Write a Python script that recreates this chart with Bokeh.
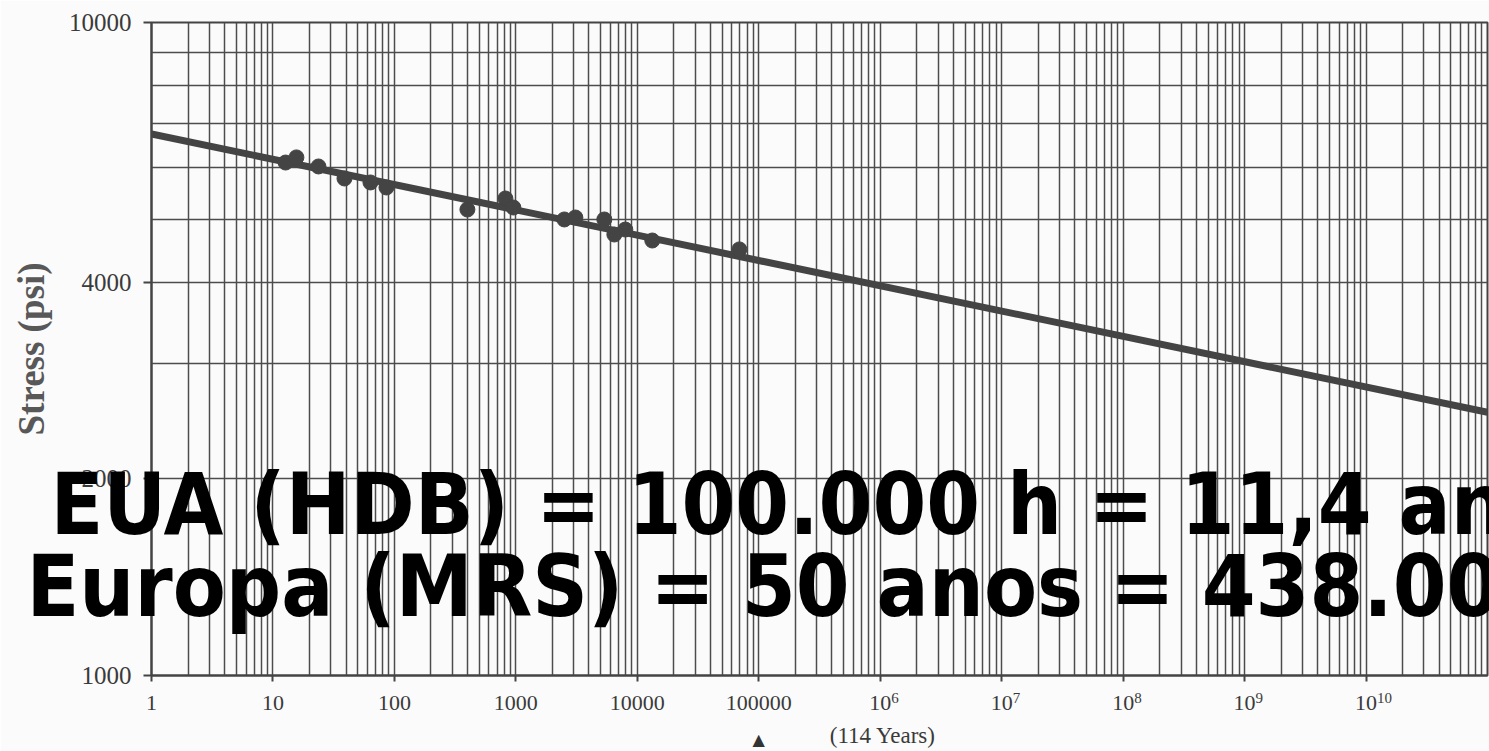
from bokeh.plotting import figure
from bokeh.layouts import column
from bokeh.models import FixedTicker, Label, Range1d
from bokeh.embed import file_html
from bokeh.resources import INLINE

# Creep rupture tests: time to failure (h) and hoop stress (psi)
test_hours = [12.7, 15.6, 23.7, 38.8, 63.5, 86, 399, 820, 954,
              2506, 3090, 5350, 6470, 7960, 13280, 69200]
test_stress = [6103, 6215, 6019, 5769, 5689, 5589, 5171, 5377, 5208,
               4993, 5028, 4993, 4735, 4819, 4636, 4493]

# Regression line (log-log) across the whole time axis
fit_hours = [1, 1e11]
fit_stress = [6750, 2530]

# Axis ticks and labels (powers from 10^6 up get a raised exponent)
x_ticks = [1, 10, 100, 1000, 10000, 100000,
           10**6, 10**7, 10**8, 10**9, 10**10]
x_tick_labels = ["1", "10", "100", "1000", "10000", "100000",
                 "10", "10", "10", "10", "10"]
x_tick_exponents = ["", "", "", "", "", "", "6", "7", "8", "9", "10"]
y_ticks = [1000, 2000, 4000, 10000]
y_tick_labels = ["1000", "2000", "4000", "10000"]
y_extra_lines = [3000, 5000, 6000, 7000, 8000, 9000]

# Hydrostatic design basis reference time
hdb_hours = 100000
hdb_note = "(114 Years)"

caption_lines = ["EUA (HDB) = 100.000 h = 11,4 anos",
                 "Europa (MRS) = 50 anos = 438.000 h"]

# log-paper grid: 2..9 inside every decade
x_minor = [m * 10**k for k in range(0, 11) for m in range(2, 10)]

GRID = "#4c4c4c"
INK = "#444444"
TEXT = "#3a3a3a"
SERIF = "Liberation Serif"

W, H = 1489, 751
# borders around the data area of the chart (pixels)
B_LEFT, B_RIGHT, B_TOP, B_BOTTOM = 151, 2, 22, 76
X_DECADES, Y_DECADES = 11, 1

p = figure(width=W, height=H,
           x_axis_type="log", y_axis_type="log",
           x_range=Range1d(1, 1e11), y_range=Range1d(1000, 10000),
           output_backend="svg", toolbar_location=None,
           min_border_left=B_LEFT, min_border_right=B_RIGHT,
           min_border_top=B_TOP, min_border_bottom=B_BOTTOM)

p.background_fill_color = "#fbfbfb"
p.border_fill_color = "#fbfbfb"
p.outline_line_color = INK
p.outline_line_width = 2

# x axis
p.xaxis.ticker = FixedTicker(ticks=x_ticks, minor_ticks=x_minor)
p.xaxis.major_label_overrides = dict(zip(x_ticks, x_tick_labels))
p.xaxis.major_label_text_font = SERIF
p.xaxis.major_label_text_font_size = "22px"
p.xaxis.major_label_text_color = TEXT
p.xaxis.major_label_standoff = 14
p.xaxis.major_tick_out = 6
p.xaxis.major_tick_in = 0
p.xaxis.major_tick_line_color = INK
p.xaxis.major_tick_line_width = 2
p.xaxis.minor_tick_line_color = None
p.xaxis.axis_line_color = INK
p.xaxis.axis_line_width = 2

# y axis
p.yaxis.ticker = FixedTicker(ticks=y_ticks, minor_ticks=y_extra_lines)
p.yaxis.major_label_overrides = dict(zip(y_ticks, y_tick_labels))
p.yaxis.major_label_text_font = SERIF
p.yaxis.major_label_text_font_size = "25px"
p.yaxis.major_label_text_color = TEXT
p.yaxis.major_label_standoff = 12
p.yaxis.major_tick_out = 8
p.yaxis.major_tick_in = 0
p.yaxis.major_tick_line_color = INK
p.yaxis.major_tick_line_width = 2
p.yaxis.minor_tick_line_color = None
p.yaxis.axis_line_color = INK
p.yaxis.axis_line_width = 2
p.yaxis.axis_label = "Stress (psi)"
p.yaxis.axis_label_text_font = SERIF
p.yaxis.axis_label_text_font_style = "bold"
p.yaxis.axis_label_text_font_size = "37px"
p.yaxis.axis_label_text_color = "#585858"
p.yaxis.axis_label_standoff = 14

# grid
for g in (p.xgrid, p.ygrid):
    g.grid_line_color = GRID
    g.grid_line_width = 1.5
    g.minor_grid_line_color = GRID
    g.minor_grid_line_width = 1.5

# regression line and test points
p.line(fit_hours, fit_stress, line_color=INK, line_width=7)
p.scatter(test_hours, test_stress, size=15, fill_color=INK, line_color=INK)

# Transparent overlay sharing the chart's log scales but spanning the whole
# canvas, for texts that run outside the data area (not clipped there).
dx = X_DECADES / (W - B_LEFT - B_RIGHT)
dy = Y_DECADES / (H - B_TOP - B_BOTTOM)
q = figure(width=W, height=H, x_axis_type="log", y_axis_type="log",
           x_range=Range1d(10 ** (0 - B_LEFT * dx), 10 ** (11 + B_RIGHT * dx)),
           y_range=Range1d(10 ** (3 - B_BOTTOM * dy), 10 ** (4 + B_TOP * dy)),
           x_axis_location=None, y_axis_location=None,
           output_backend="svg", toolbar_location=None, min_border=0)
q.frame_align = False
q.grid.visible = False
q.background_fill_color = None
q.border_fill_color = None
q.outline_line_color = None
q.margin = (-H, 0, 0, 0)

# raised exponents of the large tick labels
for t, e in zip(x_ticks, x_tick_exponents):
    if e:
        q.add_layout(Label(x=t, y=54, y_units="screen", x_offset=11,
                           text=e, text_font=SERIF, text_font_size="15px",
                           text_color=TEXT, text_align="left",
                           text_baseline="middle"))

# reference time marker under the x axis
q.add_layout(Label(x=hdb_hours, y=12, y_units="screen", text="\u25b2",
                   text_font="DejaVu Sans", text_font_size="16px",
                   text_color="#333333", text_align="center",
                   text_baseline="middle"))
q.add_layout(Label(x=hdb_hours, y=16, y_units="screen", x_offset=71,
                   text=hdb_note, text_font=SERIF, text_font_size="23px",
                   text_color=TEXT, text_align="left",
                   text_baseline="middle"))

# caption over the chart
for line_text, sx, sy in zip(caption_lines, [50, 26], [248, 166]):
    q.add_layout(Label(x=sx, y=sy, x_units="screen", y_units="screen",
                       text=line_text, text_font="DejaVu Sans Condensed",
                       text_font_style="bold", text_font_size="86px",
                       text_color="#000000", text_align="left",
                       text_baseline="middle"))

page = column(p, q, spacing=0)
open("out.html", "w").write(file_html(page, INLINE))
